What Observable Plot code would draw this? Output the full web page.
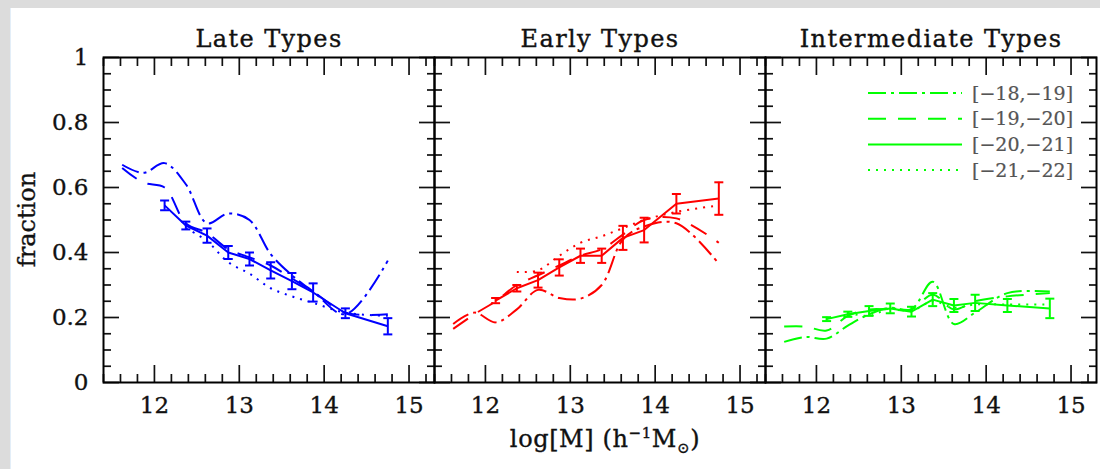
<!DOCTYPE html>
<html>
<head>
<meta charset="utf-8">
<script src="https://cdn.jsdelivr.net/npm/d3@7"></script>
<script src="https://cdn.jsdelivr.net/npm/@observablehq/plot@0.6"></script>
<style>
  html, body { margin: 0; padding: 0; width: 1100px; height: 469px; overflow: hidden; background: #dcdcdc; }
  #card { position: absolute; left: 10px; top: 8px; width: 1090px; height: 461px; background: #fff; border-left: 1px solid #e3eef8; }
  #chart { position: absolute; left: 0; top: 0; }
  #chart svg { font-family: 'DejaVu Serif', serif; }
  #chart svg text { stroke: #111; stroke-width: 0.35px; }
  #chart svg g[aria-label="fx-axis tick label"] text { letter-spacing: 1.4px; }
  #chart svg text.legend-text { stroke: #555; stroke-width: 0.2px; }
</style>
</head>
<body>
<div id="card"><div id="chart"></div></div>
<script>
// ---------- data ----------
const panels = ["Late Types", "Early Types", "Intermediate Types"];
const panelColors = ["#0000ff", "#ff0000", "#00ff00"];
const magBins = ["[\u221218,\u221219]", "[\u221219,\u221220]", "[\u221220,\u221221]", "[\u221221,\u221222]"];
const massBins = [11.62, 11.87, 12.12, 12.37, 12.62, 12.87, 13.12, 13.37, 13.62, 13.87, 14.25, 14.75];
const xTickValues = [12, 13, 14, 15];
const yTickValues = [0, 0.2, 0.4, 0.6, 0.8, 1];

// Late types
const late18 = [0.67, 0.645, 0.675, 0.61, 0.49, 0.52, 0.50, 0.395, 0.33, 0.28, 0.21, 0.375];
const late19 = [0.66, 0.615, 0.60, 0.49, 0.46, 0.41, 0.385, 0.36, 0.32, 0.28, 0.215, 0.21];
const late20 = [null, null, 0.545, 0.483, 0.452, 0.40, 0.38, 0.345, 0.312, 0.277, 0.213, 0.173];
const late20err = [null, null, 0.015, 0.012, 0.022, 0.02, 0.02, 0.025, 0.025, 0.028, 0.015, 0.025];
const late21 = [null, null, null, 0.475, 0.435, 0.37, 0.335, 0.29, 0.265, 0.245, 0.215, 0.205];

// Early types
const early18 = [0.18, 0.215, 0.185, 0.225, 0.285, 0.26, 0.258, 0.30, 0.44, 0.48, 0.49, 0.365];
const early19 = [0.165, 0.21, 0.25, 0.30, 0.33, 0.36, 0.39, 0.41, 0.455, 0.50, 0.505, 0.43];
const early20 = [null, null, 0.252, 0.29, 0.315, 0.354, 0.39, 0.39, 0.445, 0.469, 0.55, 0.566];
const early20err = [null, null, 0.008, 0.01, 0.023, 0.025, 0.022, 0.022, 0.037, 0.038, 0.03, 0.05];
const early21 = [null, null, null, 0.34, 0.345, 0.39, 0.43, 0.45, 0.475, 0.50, 0.525, 0.545];

// Intermediate types
const inter18 = [0.125, 0.14, 0.135, 0.175, 0.21, 0.23, 0.225, 0.31, 0.18, 0.215, 0.275, 0.28];
const inter19 = [0.172, 0.172, 0.16, 0.205, 0.225, 0.225, 0.225, 0.27, 0.225, 0.25, 0.265, 0.275];
const inter20 = [null, null, 0.195, 0.21, 0.22, 0.228, 0.218, 0.255, 0.237, 0.245, 0.237, 0.228];
const inter20err = [null, null, 0.006, 0.008, 0.015, 0.015, 0.015, 0.02, 0.02, 0.025, 0.02, 0.03];
const inter21 = [null, null, null, 0.215, 0.205, 0.228, 0.22, 0.25, 0.23, 0.24, 0.24, 0.24];

// ---------- tables built from the arrays ----------
const seriesByPanel = [
  [late18, late19, late20, late21],
  [early18, early19, early20, early21],
  [inter18, inter19, inter20, inter21]
];
const errByPanel = [late20err, early20err, inter20err];

const rows = [];
panels.forEach((p, pi) => {
  seriesByPanel[pi].forEach((vals, si) => {
    vals.forEach((v, i) => {
      if (v != null) rows.push({panel: p, series: magBins[si], mass: massBins[i], frac: v, err: si === 2 ? errByPanel[pi][i] : null});
    });
  });
});
const errRows = rows.filter(d => d.err != null);

// ---------- styles ----------
const dashStyles = ["18,5,3,5", "18,12", null, "2,6"];
const lineWidth = 2;
const hbar = {draw(ctx, size) { const r = Math.sqrt(size / Math.PI); ctx.moveTo(-r, 0); ctx.lineTo(r, 0); }};

const xMinor = d3.range(57, 77).map(i => i / 5).filter(v => Math.abs(v - Math.round(v)) > 1e-9);
const yMinor = d3.range(1, 20).map(i => i / 20).filter((v, i) => (i + 1) % 4 !== 0);

const tickCommon = {fill: "none", label: null, strokeWidth: 1.7, facetAnchor: null};

const lineMarks = magBins.map((s, si) => Plot.line(rows.filter(d => d.series === s), {
  x: "mass", y: "frac", fx: "panel", stroke: "panel",
  strokeWidth: lineWidth, strokeDasharray: dashStyles[si], strokeLinecap: "butt",
  curve: si === 2 ? "linear" : "catmull-rom"
}));

const chart = Plot.plot({
  width: 1089, height: 461,
  marginLeft: 92, marginRight: 4, marginTop: 49, marginBottom: 87,
  style: {fontFamily: "'DejaVu Serif', serif", fontSize: "23px", color: "#111", background: "transparent", overflow: "visible"},
  fx: {domain: panels, padding: 0},
  x: {domain: [11.4, 15.3]},
  y: {domain: [0, 1]},
  color: {domain: panels, range: panelColors},
  marks: [
    // panel titles
    Plot.axisFx({anchor: "top", tickSize: 0, tickPadding: 11, fontSize: 24, label: null}),
    // ticks (inward) on all four sides
    Plot.axisX({anchor: "bottom", ticks: xTickValues, tickSize: -17, ...tickCommon}),
    Plot.axisX({anchor: "top", ticks: xTickValues, tickSize: -17, ...tickCommon}),
    Plot.axisX({anchor: "bottom", ticks: xMinor, tickSize: -8, ...tickCommon}),
    Plot.axisX({anchor: "top", ticks: xMinor, tickSize: -8, ...tickCommon}),
    Plot.axisY({anchor: "left", ticks: yTickValues, tickSize: -16, ...tickCommon}),
    Plot.axisY({anchor: "right", ticks: yTickValues, tickSize: -16, ...tickCommon}),
    Plot.axisY({anchor: "left", ticks: yMinor, tickSize: -8, ...tickCommon}),
    Plot.axisY({anchor: "right", ticks: yMinor, tickSize: -8, ...tickCommon}),
    // tick labels
    Plot.axisX({anchor: "bottom", ticks: xTickValues, tickSize: 0, tickPadding: 14, tickFormat: d => String(d), label: null}),
    Plot.axisY({anchor: "left", ticks: yTickValues, tickSize: 0, tickPadding: 15, tickFormat: d => String(d), label: null}),
    // data
    ...lineMarks,
    Plot.ruleX(errRows, {x: "mass", y1: d => d.frac - d.err, y2: d => d.frac + d.err, fx: "panel", stroke: "panel", strokeWidth: 2}),
    Plot.dot(errRows, {x: "mass", y: d => d.frac - d.err, fx: "panel", stroke: "panel", symbol: hbar, r: 4.5, strokeWidth: 2}),
    Plot.dot(errRows, {x: "mass", y: d => d.frac + d.err, fx: "panel", stroke: "panel", symbol: hbar, r: 4.5, strokeWidth: 2}),
    Plot.frame({stroke: "#000", strokeWidth: 2})
  ]
});

document.getElementById("chart").appendChild(chart);

// ---------- axis labels & legend ----------
const svg = d3.select(chart);

svg.append("text")
  .attr("transform", "translate(24,211.5) rotate(-90)")
  .attr("text-anchor", "middle")
  .attr("fill", "#111")
  .style("font-size", "24px")
  .text("fraction");

const xl = svg.append("text")
  .attr("x", 594).attr("y", 439)
  .attr("text-anchor", "middle")
  .attr("fill", "#111")
  .style("font-size", "24px")
  .style("letter-spacing", "0.6px");
xl.append("tspan").text("log[M] (h");
xl.append("tspan").attr("dy", -9).style("font-size", "15px").text("\u22121");
xl.append("tspan").attr("dy", 9).text("M");
xl.append("tspan").attr("dy", 6).style("font-size", "15px").text("\u2299");
xl.append("tspan").attr("dy", -6).text(")");

const lg = svg.append("g").attr("text-anchor", "start");
magBins.forEach((lab, i) => {
  const y = 85 + i * 25.7;
  lg.append("line")
    .attr("x1", 857).attr("x2", 951).attr("y1", y).attr("y2", y)
    .attr("stroke", panelColors[2]).attr("stroke-width", lineWidth)
    .attr("stroke-dasharray", dashStyles[i]);
  lg.append("text")
    .attr("class", "legend-text")
    .attr("x", 961).attr("y", y).attr("dy", "0.35em")
    .attr("text-anchor", "start")
    .attr("fill", "#555")
    .style("font-size", "19px")
    .text(lab);
});
</script>
</body>
</html>
